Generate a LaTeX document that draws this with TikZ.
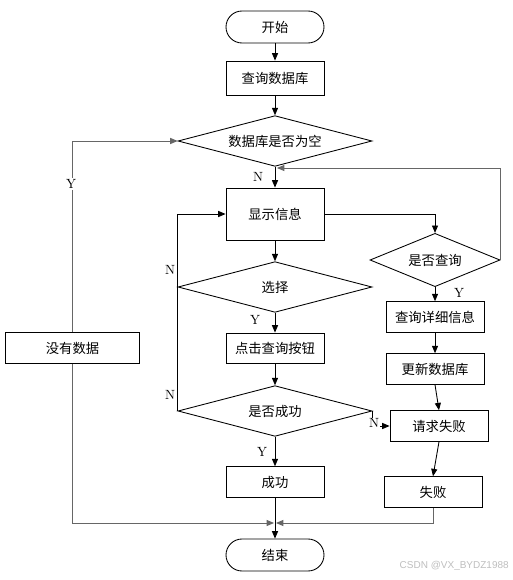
\documentclass[tikz,border=0pt]{standalone}
\usepackage{fontspec}
\newfontfamily\cjk{Noto Sans CJK SC}
\newfontfamily\wmfont{Liberation Sans}
\usetikzlibrary{shapes.geometric,arrows.meta}
\begin{document}
\begin{tikzpicture}[x=0.75pt,y=-0.75pt,
  box/.style={draw, line width=0.65pt, minimum width=73.5pt, minimum height=23pt, inner sep=0pt, font=\cjk\fontsize{10}{12}\selectfont},
  term/.style={box, rounded corners=12pt, minimum height=24pt},
  dia/.style={draw, diamond, line width=0.65pt, inner sep=0pt, aspect=3.9, minimum width=145.5pt, minimum height=38pt, font=\cjk\fontsize{10}{12}\selectfont},
  arr/.style={-{Triangle[length=5.5pt,width=4.5pt]}, line width=0.65pt},
  gline/.style={draw=black!60},
  lab/.style={font=\fontsize{10}{12}\selectfont, inner sep=1pt}
]
\useasboundingbox (0,0) rectangle (512,580);
\fill[white] (0,0) rectangle (512,580);

% main column
\node[term] (start) at (275,27) {开始};
\node[box, minimum height=25.5pt] (q1) at (275,78) {查询数据库};
\node[dia] (d1) at (275,141) {数据库是否为空};
\node[box, minimum height=39pt] (show) at (275,214) {显示信息};
\node[dia] (d2) at (275,287) {选择};
\node[box, minimum height=22.5pt] (click) at (275,348) {点击查询按钮};
\node[dia] (d3) at (275,411) {是否成功};
\node[box] (succ) at (275,482) {成功};
\node[term] (end) at (275,555) {结束};

% left
\node[box, minimum width=101pt] (nodata) at (72.5,348) {没有数据};

% right column
\node[dia, aspect=2.45, minimum width=97.5pt, minimum height=40pt] (d4) at (435,260) {是否查询};
\node[box] (detail) at (435,317) {查询详细信息};
\node[box] (update) at (435,369) {更新数据库};
\node[box] (reqfail) at (439,426) {请求失败};
\node[box] (fail) at (433,492) {失败};

\coordinate (jl) at (274,523);
\coordinate (jr) at (276,523);
\coordinate (fb) at (277,168);

% main flow
\draw[arr] (start) -- (q1);
\draw[arr] (q1) -- (d1);
\draw[arr] (d1) -- (show);
\draw[arr] (show) -- (d2);
\draw[arr] (d2) -- (click);
\draw[arr] (click) -- (d3);
\draw[arr] (d3) -- (succ);
\draw[arr] (succ) -- (end);

% loops on the left
\draw[arr] (d2.west) |- (show.west);
\draw[line width=0.65pt] (d3.west) -- (d2.west);

% no data
\draw[arr, gline] (nodata.north) |- (d1.west);
\draw[arr, gline] (nodata.south) |- (jl);

% right branch
\draw[arr] (show.east) -| (d4.north);
\draw[arr, gline] (d4.east) |- (fb);
\draw[arr] (d4) -- (detail);
\draw[arr] (detail) -- (update);
\draw[arr] (update.south) -- (reqfail.north);
\draw[arr] (reqfail.south) -- (fail.north);
\draw[arr] (d3.east) |- (reqfail.west);
\draw[arr, gline] (fail.south) |- (jr);

% labels
\node[lab] (lN1) at (258,177) {N};
\node[lab, fill=white] (lY1) at (71,184) {Y};
\node[lab] (lN2) at (170,270) {N};
\node[lab] (lN3) at (170,395) {N};
\node[lab] (lY2) at (255,320) {Y};
\node[lab] (lY3) at (262,452) {Y};
\node[lab] (lY4) at (459,293) {Y};
\node[lab, fill=white, inner sep=0.5pt] (lN4) at (374,423) {N};

% watermark
\node[font=\wmfont\fontsize{7.5}{9}\selectfont, text=black!25, anchor=east, inner sep=0pt] (wm) at (509,566) {CSDN @VX\_BYDZ1988};
\end{tikzpicture}
\end{document}
